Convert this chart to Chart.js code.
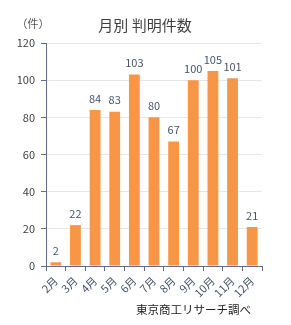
<!DOCTYPE html>
<html lang="ja">
<head>
  <meta charset="UTF-8">
  <title>月別 判明件数</title>
  <script src="https://cdn.jsdelivr.net/npm/chart.js@4.4.7/dist/chart.umd.min.js"></script>
  <style>
    * { margin: 0; padding: 0; box-sizing: border-box; }
    body { background: #fff; width: 291px; height: 325px; overflow: hidden; }
    canvas { display: block; }
  </style>
</head>
<body>
  <canvas id="barChart" width="291" height="325"></canvas>
  <script>
    const months = ['2月', '3月', '4月', '5月', '6月', '7月', '8月', '9月', '10月', '11月', '12月'];
    const counts = [2, 22, 84, 83, 103, 80, 67, 100, 105, 101, 21];
    const yTicks = [0, 20, 40, 60, 80, 100, 120];

    const FONT = "'Noto Sans CJK JP', 'Noto Sans', sans-serif";

    // 棒の上の数値と、タイトル・単位・出典
    const extras = {
      id: 'extras',
      afterDatasetsDraw(chart) {
        const ctx = chart.ctx;
        const meta = chart.getDatasetMeta(0);
        ctx.save();
        ctx.fillStyle = '#44546a';
        ctx.font = '11px ' + FONT;
        ctx.textAlign = 'center';
        ctx.textBaseline = 'bottom';
        meta.data.forEach((bar, i) => {
          ctx.fillText(String(counts[i]), bar.x, bar.y - 6);
        });

        ctx.fillStyle = '#404040';
        ctx.font = '15px ' + FONT;
        ctx.textBaseline = 'middle';
        ctx.fillText('月別 判明件数', 145, 25);

        ctx.font = '11px ' + FONT;
        ctx.fillStyle = '#595959';
        ctx.fillText('（件）', 33, 24);

        ctx.fillStyle = '#222';
        ctx.font = '11.5px ' + FONT;
        ctx.textAlign = 'right';
        ctx.fillText('東京商工リサーチ調べ', 251, 310);
        ctx.restore();
      }
    };

    new Chart(document.getElementById('barChart'), {
      type: 'bar',
      data: {
        labels: months,
        datasets: [{
          data: counts,
          backgroundColor: '#f79646',
          barPercentage: 0.55,
          categoryPercentage: 1.0
        }]
      },
      options: {
        responsive: false,
        animation: false,
        layout: { padding: { top: 43, right: 29, left: 0, bottom: 0 } },
        plugins: {
          legend: { display: false },
          tooltip: { enabled: false }
        },
        scales: {
          x: {
            afterFit(scale) { scale.height = 59; },
            grid: {
              display: true,
              drawOnChartArea: false,
              offset: true,
              color: '#5b6f8c',
              tickLength: 5
            },
            border: { color: '#5b6f8c' },
            ticks: {
              color: '#44546a',
              font: { size: 11, family: FONT },
              minRotation: 45,
              maxRotation: 45,
              autoSkip: false,
              padding: 3
            }
          },
          y: {
            min: 0,
            max: 120,
            afterFit(scale) { scale.width = 46; },
            afterBuildTicks(scale) { scale.ticks = yTicks.map(v => ({ value: v })); },
            grid: {
              color: '#e6e6e6',
              tickColor: '#5b6f8c',
              tickLength: 5
            },
            border: { color: '#5b6f8c' },
            ticks: {
              color: '#404040',
              font: { size: 11, family: FONT },
              padding: 6
            }
          }
        }
      },
      plugins: [extras]
    });
  </script>
</body>
</html>
